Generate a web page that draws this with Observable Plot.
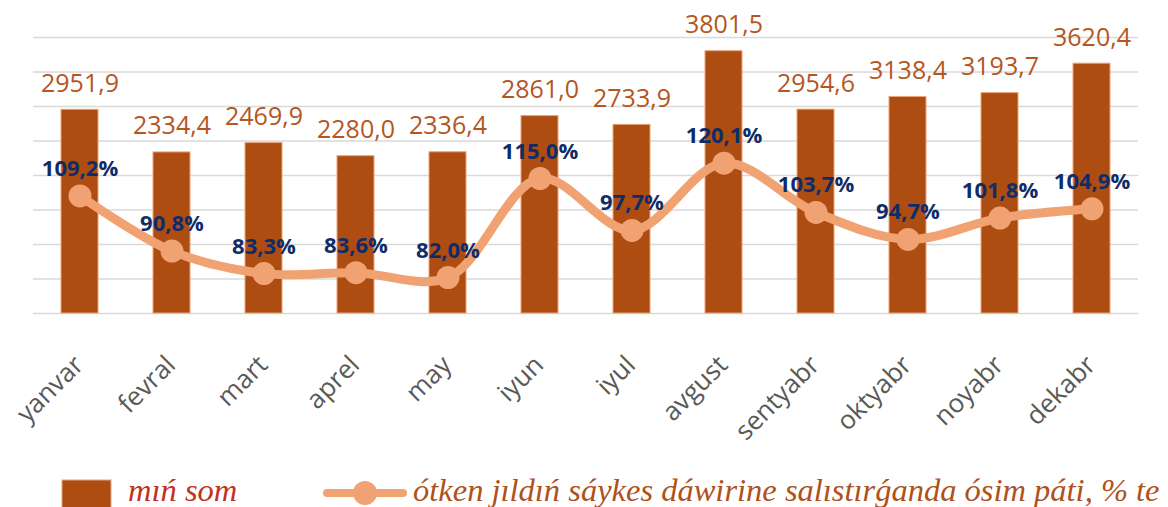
<!DOCTYPE html>
<html>
<head>
<meta charset="utf-8">
<script src="https://cdn.jsdelivr.net/npm/d3@7"></script>
<script src="https://cdn.jsdelivr.net/npm/@observablehq/plot@0.6"></script>
<style>
  html, body { margin: 0; padding: 0; background: #ffffff; width: 1168px; height: 507px; overflow: hidden; }
  #wrap { position: relative; width: 1168px; height: 507px; }
  #wrap svg { position: absolute; left: 0; background: transparent; }
</style>
</head>
<body>
<div id="wrap"></div>
<script>
// ---- data ----
const months = ["yanvar", "fevral", "mart", "aprel", "may", "iyun", "iyul", "avgust", "sentyabr", "oktyabr", "noyabr", "dekabr"];
const volume = [2951.9, 2334.4, 2469.9, 2280.0, 2336.4, 2861.0, 2733.9, 3801.5, 2954.6, 3138.4, 3193.7, 3620.4];
const growth = [109.2, 90.8, 83.3, 83.6, 82.0, 115.0, 97.7, 120.1, 103.7, 94.7, 101.8, 104.9];
const gridTicks = [0, 500, 1000, 1500, 2000, 2500, 3000, 3500, 4000];
const barSeriesName = "mıń som";
const lineSeriesName = "ótken jıldıń sáykes dáwirine salıstırǵanda ósim páti, % te";

// ---- table built from arrays ----
const rows = months.map((m, i) => ({month: m, volume: volume[i], growth: growth[i]}));
const fmt = v => v.toFixed(1).replace(".", ",");

// ---- styles ----
const W = 1168, H = 465;
const barColor = "#AD4D12";
const barLabelColor = "#B4561E";
const lineColor = "#F1A273";
const pctColor = "#0F2C69";
const axisColor = "#595959";
const numFont = "'Open Sans', 'Noto Sans', sans-serif";

const xScale = {type: "band", domain: months, paddingInner: 0.6, paddingOuter: 0.3, axis: null};
const margins = {marginLeft: 33, marginRight: 30, marginTop: 37, marginBottom: H - 313};

const bars = Plot.plot({
  width: W, height: H, ...margins,
  style: {background: "transparent", fontFamily: numFont},
  x: xScale,
  y: {domain: [0, 4000], axis: null},
  marks: [
    Plot.gridY(gridTicks, {stroke: "#D9D9D9", strokeOpacity: 1, strokeWidth: 1.6}),
    Plot.barY(rows, {x: "month", y: "volume", fill: barColor, stroke: "#E7A47C", strokeWidth: 1}),
    Plot.text(rows, {x: "month", y: "volume", text: d => fmt(d.volume), dy: -18, lineAnchor: "bottom",
      fill: barLabelColor, fontSize: 25, fontFamily: numFont}),
    Plot.text(months, {x: d => d, frameAnchor: "bottom", text: d => d, rotate: -45, textAnchor: "end",
      lineAnchor: "bottom", dx: 5, dy: 53, fill: axisColor, fontSize: 26, fontFamily: numFont})
  ]
});
bars.style.top = "0px";

const line = Plot.plot({
  width: W, height: H, ...margins,
  style: {background: "transparent", fontFamily: numFont},
  x: xScale,
  y: {domain: [70, 162], axis: null},
  marks: [
    Plot.line(rows, {x: "month", y: "growth", curve: "catmull-rom", stroke: lineColor, strokeWidth: 9,
      strokeLinecap: "round", strokeLinejoin: "round"}),
    Plot.dot(rows, {x: "month", y: "growth", r: 11.5, fill: lineColor, stroke: "none"}),
    Plot.text(rows, {x: "month", y: "growth", text: d => fmt(d.growth) + "%", dy: -20, lineAnchor: "bottom",
      fill: pctColor, fontSize: 22, fontWeight: "bold", fontFamily: numFont})
  ]
});
line.style.top = "0px";

const wrap = document.getElementById("wrap");
wrap.appendChild(bars);
wrap.appendChild(line);

// ---- legend (below the chart) ----
const lg = d3.create("svg").attr("width", W).attr("height", 42).style("top", H + "px");
lg.append("rect").attr("x", 62).attr("y", 15).attr("width", 49).attr("height", 40)
  .attr("fill", barColor).attr("stroke", "#E7A47C").attr("stroke-width", 1);
lg.append("text").attr("x", 128).attr("y", 36).text(barSeriesName)
  .attr("font-family", "'Liberation Serif', serif").attr("font-style", "italic").attr("font-size", 32.5)
  .attr("fill", "#C4301E");
lg.append("line").attr("x1", 327).attr("x2", 403).attr("y1", 28).attr("y2", 28)
  .attr("stroke", lineColor).attr("stroke-width", 8).attr("stroke-linecap", "round");
lg.append("circle").attr("cx", 365).attr("cy", 28).attr("r", 12).attr("fill", lineColor);
lg.append("text").attr("x", 413).attr("y", 36).text(lineSeriesName)
  .attr("font-family", "'Liberation Serif', serif").attr("font-style", "italic").attr("font-size", 32.5)
  .attr("fill", "#B0501A");
wrap.appendChild(lg.node());
</script>
</body>
</html>
